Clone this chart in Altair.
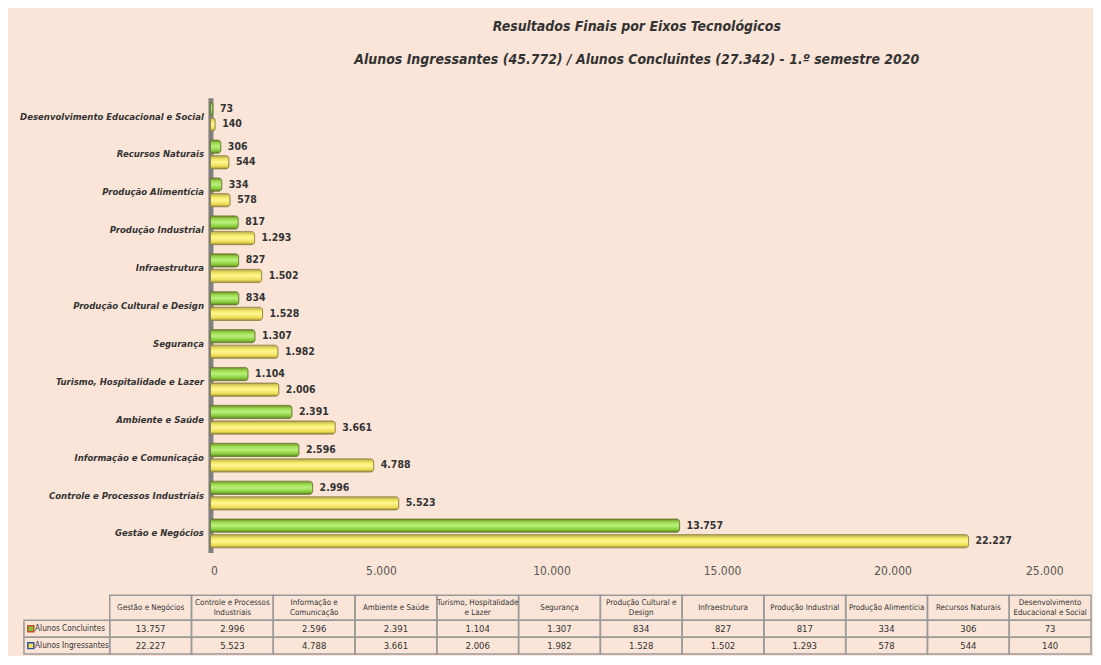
import altair as alt
import pandas as pd

FONT = "DejaVu Sans Condensed, Liberation Sans Narrow, sans-serif"

categories = [
    "Gestão e Negócios", "Controle e Processos Industriais", "Informação e Comunicação",
    "Ambiente e Saúde", "Turismo, Hospitalidade e Lazer", "Segurança",
    "Produção Cultural e Design", "Infraestrutura", "Produção Industrial",
    "Produção Alimentícia", "Recursos Naturais", "Desenvolvimento Educacional e Social",
]
header_labels = [
    "Gestão e Negócios", "Controle e Processos\nIndustriais", "Informação e\nComunicação",
    "Ambiente e Saúde", "Turismo, Hospitalidade\ne Lazer", "Segurança",
    "Produção Cultural e\nDesign", "Infraestrutura", "Produção Industrial",
    "Produção Alimentícia", "Recursos Naturais", "Desenvolvimento\nEducacional e Social",
]
series_names = ["Alunos Concluintes", "Alunos Ingressantes"]
concluintes = [13757, 2996, 2596, 2391, 1104, 1307, 834, 827, 817, 334, 306, 73]
ingressantes = [22227, 5523, 4788, 3661, 2006, 1982, 1528, 1502, 1293, 578, 544, 140]
x_ticks = [0, 5000, 10000, 15000, 20000, 25000]

rows = []
for c, a, b in zip(categories, concluintes, ingressantes):
    rows.append({"cat": c, "series": series_names[0], "value": a})
    rows.append({"cat": c, "series": series_names[1], "value": b})
df = pd.DataFrame(rows)

LABEL_COL = "label"
dfh = pd.DataFrame({"col": categories, "row": ["h"] * len(categories), "hdr": header_labels})
vrows = []
for c, a, b in zip(categories, concluintes, ingressantes):
    vrows.append({"col": c, "row": series_names[0], "value": a})
    vrows.append({"col": c, "row": series_names[1], "value": b})
dfv = pd.DataFrame(vrows)
dfl = pd.DataFrame({"col": [LABEL_COL, LABEL_COL], "row": series_names})

green_grad = alt.LinearGradient(
    gradient="linear", x1=0, x2=0, y1=0, y2=1,
    stops=[alt.GradientStop(color="#6f8a2a", offset=0),
           alt.GradientStop(color="#9ede50", offset=0.25),
           alt.GradientStop(color="#b9f07c", offset=0.5),
           alt.GradientStop(color="#86cc3a", offset=0.8),
           alt.GradientStop(color="#5f7a22", offset=1)])
yellow_grad = alt.LinearGradient(
    gradient="linear", x1=0, x2=0, y1=0, y2=1,
    stops=[alt.GradientStop(color="#b9a94a", offset=0),
           alt.GradientStop(color="#f5ec6a", offset=0.3),
           alt.GradientStop(color="#fff690", offset=0.5),
           alt.GradientStop(color="#eedd55", offset=0.8),
           alt.GradientStop(color="#9c8c3a", offset=1)])

y_enc = alt.Y("cat:N", sort=categories[::-1],
              scale=alt.Scale(paddingInner=0.24, paddingOuter=0.12),
              axis=alt.Axis(title=None, ticks=False, domainColor="#808080", domainWidth=5,
                            labelFont=FONT, labelFontSize=9.5, labelFontWeight="bold",
                            labelFontStyle="italic", labelColor="#333333",
                            labelPadding=7, labelLimit=300))
x_enc = alt.X("value:Q", scale=alt.Scale(domain=[0, 25000], nice=False),
              axis=alt.Axis(title=None, values=x_ticks, format=",d", domain=False,
                            ticks=False, grid=False, labelFont=FONT, labelFontSize=12,
                            labelColor="#555555", labelPadding=13))
yoff = alt.YOffset("series:N", scale=alt.Scale(domain=series_names, paddingInner=0.15, paddingOuter=0))

bars_c = alt.Chart().mark_bar(color=green_grad, stroke="#6b7a30", strokeWidth=0.8,
                              cornerRadiusEnd=3).encode(
    x=x_enc, y=y_enc, yOffset=yoff).transform_filter(alt.datum.series == series_names[0])
bars_i = alt.Chart().mark_bar(color=yellow_grad, stroke="#8e8440", strokeWidth=0.8,
                              cornerRadiusEnd=3).encode(
    x=x_enc, y=y_enc, yOffset=yoff).transform_filter(alt.datum.series == series_names[1])
labels = alt.Chart().mark_text(align="left", baseline="middle", dx=7, font=FONT,
                               fontSize=10.5, fontWeight="bold", color="#333333").encode(
    x=x_enc, y=y_enc, yOffset=yoff, text=alt.Text("value:Q", format=",d"))
top = alt.layer(bars_c, bars_i, labels, data=df)

# data table under the plot, drawn with its own band scales
cell_style = dict(fill="transparent", stroke="#9a9a9a", strokeWidth=1.5)
tsx = alt.Scale(domain=categories, range=[-101, 883], paddingInner=0, paddingOuter=0)
tx = alt.X("col:N", scale=tsx, axis=None)
hy = alt.Y("row:N", scale=alt.Scale(domain=["h"], range=[499, 524], paddingInner=0, paddingOuter=0), axis=None)
vy = alt.Y("row:N", scale=alt.Scale(domain=series_names, range=[524, 558], paddingInner=0, paddingOuter=0), axis=None)

two_lines = "indexof(datum.hdr, '\\n') >= 0"
hcells = alt.Chart().mark_rect(**cell_style).encode(x=tx, y=hy)
htext1 = alt.Chart().mark_text(font=FONT, fontSize=8, color="#333333", baseline="middle").encode(
    x=tx, y=hy, text="hdr:N").transform_filter("!(" + two_lines + ")")
htext2 = alt.Chart().mark_text(lineBreak="\n", font=FONT, fontSize=8, lineHeight=10, dy=-5,
                               color="#333333", baseline="middle").encode(
    x=tx, y=hy, text="hdr:N").transform_filter(two_lines)
table_header = alt.layer(hcells, htext1, htext2, data=dfh)

vcells = alt.Chart().mark_rect(**cell_style).encode(x=tx, y=vy)
vtext = alt.Chart().mark_text(font=FONT, fontSize=9.5, color="#333333", baseline="middle").encode(
    x=tx, y=vy, text=alt.Text("value:Q", format=",d"))
table_values = alt.layer(vcells, vtext, data=dfv)

lsx = alt.Scale(domain=[LABEL_COL], range=[-187, -101], paddingInner=0, paddingOuter=0)
lcells = alt.Chart().mark_rect(**cell_style).encode(x=alt.X("col:N", scale=lsx, axis=None), y=vy)
swatch = alt.Chart().mark_square(size=36, strokeWidth=1.5, opacity=1).encode(
    x=alt.X("col:N", scale=lsx, axis=None, bandPosition=0.08), y=vy,
    fill=alt.Fill("row:N", scale=alt.Scale(domain=series_names, range=["#7cc63a", "#f5e25a"]), legend=None),
    stroke=alt.Stroke("row:N", scale=alt.Scale(domain=series_names, range=["#c0502a", "#3050a0"]), legend=None))
ltext = alt.Chart().mark_text(align="left", baseline="middle", font=FONT, fontSize=8.2,
                              color="#333333").encode(
    x=alt.X("col:N", scale=lsx, axis=None, bandPosition=0.13), y=vy, text="row:N")
table_labels = alt.layer(lcells, swatch, ltext, data=dfl)

table = alt.layer(table_header, table_values, table_labels).resolve_scale(x="independent", y="independent")

chart = alt.layer(top, table).resolve_scale(
    x="independent", y="independent", fill="independent", stroke="independent"
).properties(
    width=855, height=456,
    title=alt.TitleParams(
        ["Resultados Finais por Eixos Tecnológicos",
         "Alunos Ingressantes  (45.772) / Alunos Concluintes (27.342) - 1.º semestre 2020"],
        font=FONT, fontSize=14, fontWeight="bold", fontStyle="italic", color="#333333",
        lineHeight=33, anchor="middle", offset=31),
    background="#FBE5D8",
    padding={"left": 11, "top": 11, "right": 1, "bottom": 0},
).configure(
    locale={"number": {"decimal": ",", "thousands": ".", "grouping": [3], "currency": ["R$", ""]}}
).configure_view(stroke="transparent", strokeWidth=0)

chart.save("out.html", embed_options={"renderer": "svg", "actions": False})
